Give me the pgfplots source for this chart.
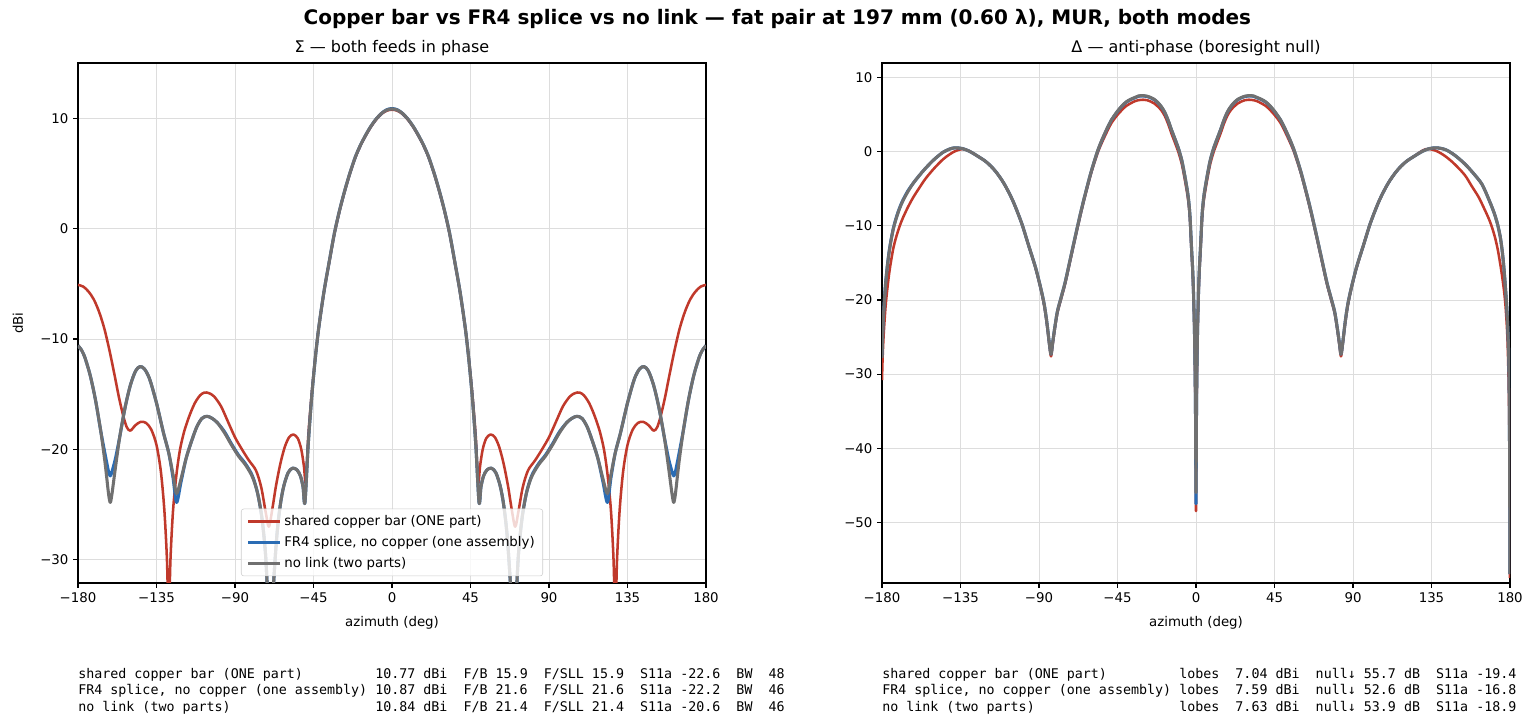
\documentclass[border=0pt]{standalone}
\usepackage{fontspec}
\setmainfont{DejaVu Sans}
\newfontfamily\monofont{DejaVu Sans Mono}
\usepackage{pgfplots}
\usepackage{pgfplotstable}
\pgfplotsset{compat=1.18}
\definecolor{cred}{RGB}{192,57,43}
\definecolor{cblue}{RGB}{42,108,180}
\definecolor{cgray}{RGB}{112,112,112}
\definecolor{cgrid}{RGB}{221,221,221}
\definecolor{cleg}{RGB}{204,204,204}

% ---------- Sigma pattern ----------
\pgfplotstableread{
az val
-180 -5.1
-177 -5.25
-174 -5.7
-171 -6.4
-168 -7.5
-165 -9.0
-162 -11.0
-159 -13.3
-156.5 -15.3
-154 -17.0
-152 -18.0
-150 -18.3
-147 -17.8
-144 -17.5
-141 -17.6
-138 -18.2
-135 -19.6
-132.5 -22.0
-130.5 -25.5
-129 -30.0
-128 -35.5
-127 -30.0
-125.5 -25.5
-123.5 -22.2
-121.5 -20.0
-119 -18.3
-116 -16.9
-113 -15.8
-110 -15.1
-107.5 -14.85
-105 -14.9
-102 -15.2
-98 -16.1
-94 -17.5
-90 -18.9
-86 -20.0
-82 -21.0
-78 -21.9
-75 -23.4
-72.5 -25.6
-70.6 -27.0
-68.5 -25.3
-66.5 -23.3
-64 -21.3
-61.5 -19.8
-59 -18.9
-56.5 -18.65
-54 -19.0
-52 -20.0
-50.5 -21.5
-49.4 -23.0
-48 -18.8
-46 -14.9
-44 -11.7
-42 -9.0
-39 -5.77
-36 -3.07
-33 -0.47
-30 1.63
-27 3.43
-24 5.03
-21 6.43
-18 7.53
-15 8.43
-12 9.23
-9 9.88
-6 10.38
-3 10.68
0 10.77
3 10.68
6 10.38
9 9.88
12 9.23
15 8.43
18 7.53
21 6.43
24 5.03
27 3.43
30 1.63
33 -0.47
36 -3.07
39 -5.77
42 -9.0
44 -11.7
46 -14.9
48 -18.8
49.4 -23.0
50.5 -21.5
52 -20.0
54 -19.0
56.5 -18.65
59 -18.9
61.5 -19.8
64 -21.3
66.5 -23.3
68.5 -25.3
70.6 -27.0
72.5 -25.6
75 -23.4
78 -21.9
82 -21.0
86 -20.0
90 -18.9
94 -17.5
98 -16.1
102 -15.2
105 -14.9
107.5 -14.85
110 -15.1
113 -15.8
116 -16.9
119 -18.3
121.5 -20.0
123.5 -22.2
125.5 -25.5
127 -30.0
128 -35.5
129 -30.0
130.5 -25.5
132.5 -22.0
135 -19.6
138 -18.2
141 -17.6
144 -17.5
147 -17.8
150 -18.3
152 -18.0
154 -17.0
156.5 -15.3
159 -13.3
162 -11.0
165 -9.0
168 -7.5
171 -6.4
174 -5.7
177 -5.25
180 -5.1
}\SigRed

\pgfplotstableread{
az val
-180 -10.6
-178 -11.0
-176 -11.7
-173 -13.3
-170 -15.5
-167 -18.3
-164.5 -20.4
-162.5 -22.0
-161.5 -22.4
-160.5 -22.0
-158.5 -20.8
-156 -18.8
-153 -16.2
-150 -14.2
-147 -12.9
-144.5 -12.5
-142 -12.7
-139 -13.6
-135 -15.8
-131 -18.5
-128 -20.3
-125.5 -22.6
-123.5 -24.8
-121 -23.0
-118 -20.8
-115 -19.3
-112 -18.0
-109 -17.2
-106 -17.0
-103 -17.2
-100 -17.6
-96 -18.4
-92 -19.5
-88 -20.5
-84 -21.3
-80 -22.4
-77 -24.0
-74.5 -26.3
-72.5 -29.5
-71 -34.0
-69.5 -38.0
-68 -32.5
-66 -27.8
-64 -25.0
-62 -23.3
-59.5 -22.1
-57 -21.7
-54.5 -21.85
-52.5 -22.4
-51 -23.4
-49.9 -24.8
-48 -19.5
-46 -15.2
-44 -11.8
-42 -9.0
-39 -5.71
-36 -3.01
-33 -0.41
-30 1.69
-27 3.49
-24 5.09
-21 6.49
-18 7.59
-15 8.49
-12 9.29
-9 9.94
-6 10.44
-3 10.77
0 10.87
3 10.77
6 10.44
9 9.94
12 9.29
15 8.49
18 7.59
21 6.49
24 5.09
27 3.49
30 1.69
33 -0.41
36 -3.01
39 -5.71
42 -9.0
44 -11.8
46 -15.2
48 -19.5
49.9 -24.8
51 -23.4
52.5 -22.4
54.5 -21.85
57 -21.7
59.5 -22.1
62 -23.3
64 -25.0
66 -27.8
68 -32.5
69.5 -38.0
71 -34.0
72.5 -29.5
74.5 -26.3
77 -24.0
80 -22.4
84 -21.3
88 -20.5
92 -19.5
96 -18.4
100 -17.6
103 -17.2
106 -17.0
109 -17.2
112 -18.0
115 -19.3
118 -20.8
121 -23.0
123.5 -24.8
125.5 -22.6
128 -20.3
131 -18.5
135 -15.8
139 -13.6
142 -12.7
144.5 -12.5
147 -12.9
150 -14.2
153 -16.2
156 -18.8
158.5 -20.8
160.5 -22.0
161.5 -22.4
162.5 -22.0
164.5 -20.4
167 -18.3
170 -15.5
173 -13.3
176 -11.7
178 -11.0
180 -10.6
}\SigBlue

\pgfplotstableread{
az val
-180 -10.6
-178 -11.0
-176 -11.7
-173 -13.3
-170 -15.5
-167 -18.3
-164.5 -21.2
-162.5 -24.0
-161.5 -24.8
-160.5 -24.0
-158.5 -21.6
-156 -18.8
-153 -16.2
-150 -14.2
-147 -12.9
-144.5 -12.5
-142 -12.7
-139 -13.6
-135 -15.8
-131 -18.5
-128 -20.3
-125.5 -22.3
-123.5 -24.0
-121 -22.7
-118 -20.8
-115 -19.3
-112 -18.0
-109 -17.2
-106 -17.0
-103 -17.2
-100 -17.6
-96 -18.5
-92 -19.6
-88 -20.6
-84 -21.4
-80 -22.5
-77 -24.0
-74.5 -26.3
-72.5 -29.5
-71 -34.0
-69.5 -38.0
-68 -32.5
-66 -27.8
-64 -25.0
-62 -23.3
-59.5 -22.1
-57 -21.7
-54.5 -21.85
-52.5 -22.4
-51 -23.4
-49.9 -24.8
-48 -19.5
-46 -15.2
-44 -11.8
-42 -9.0
-39 -5.71
-36 -3.01
-33 -0.41
-30 1.69
-27 3.49
-24 5.09
-21 6.49
-18 7.59
-15 8.49
-12 9.29
-9 9.94
-6 10.44
-3 10.74
0 10.84
3 10.74
6 10.44
9 9.94
12 9.29
15 8.49
18 7.59
21 6.49
24 5.09
27 3.49
30 1.69
33 -0.41
36 -3.01
39 -5.71
42 -9.0
44 -11.8
46 -15.2
48 -19.5
49.9 -24.8
51 -23.4
52.5 -22.4
54.5 -21.85
57 -21.7
59.5 -22.1
62 -23.3
64 -25.0
66 -27.8
68 -32.5
69.5 -38.0
71 -34.0
72.5 -29.5
74.5 -26.3
77 -24.0
80 -22.5
84 -21.4
88 -20.6
92 -19.6
96 -18.5
100 -17.6
103 -17.2
106 -17.0
109 -17.2
112 -18.0
115 -19.3
118 -20.8
121 -22.7
123.5 -24.0
125.5 -22.3
128 -20.3
131 -18.5
135 -15.8
139 -13.6
142 -12.7
144.5 -12.5
147 -12.9
150 -14.2
153 -16.2
156 -18.8
158.5 -21.6
160.5 -24.0
161.5 -24.8
162.5 -24.0
164.5 -21.2
167 -18.3
170 -15.5
173 -13.3
176 -11.7
178 -11.0
180 -10.6
}\SigGray

% ---------- Delta pattern ----------
\pgfplotstableread{
az val
-180 -30.8
-179.6 -27.5
-179 -24.5
-178 -21.0
-177 -18.6
-176 -16.6
-175 -15.0
-173.5 -13.0
-172 -11.6
-170 -10.1
-168 -8.9
-165 -7.4
-162 -6.1
-159 -5.0
-155 -3.6
-150 -2.2
-145 -1.0
-141 -0.3
-138 0.1
-134 0.38
-130 0.1
-125 -0.6
-120 -1.4
-115 -2.6
-110 -4.3
-105 -6.6
-100 -9.6
-96 -12.6
-92 -15.7
-89 -18.5
-87 -20.8
-85.5 -23.2
-84 -26.2
-83.1 -27.6
-82.2 -26.1
-81 -24.0
-79.5 -21.8
-77.5 -20.0
-75 -17.8
-72 -14.6
-69 -11.4
-66 -8.3
-63.6 -6.0
-60 -2.8
-56 0.1
-52 2.25
-48.5 3.9
-47 4.4
-45 5.0
-42.5 5.65
-40 6.2
-37.5 6.55
-35 6.85
-33 6.98
-30.3 7.04
-28 6.98
-26 6.8
-24 6.55
-22 6.15
-20 5.65
-18 4.9
-16 3.8
-14.1 2.5
-12 1.2
-10 -0.1
-8 -1.8
-6 -4.3
-4.5 -6.5
-3.5 -9.0
-2.6 -13.3
-1.8 -17.0
-1.1 -22.3
-0.6 -29
-0.25 -37
0 -48.5
0.25 -37
0.6 -29
1.1 -22.3
1.8 -17.0
2.6 -13.3
3.5 -9.0
4.5 -6.5
6 -4.3
8 -1.8
10 -0.1
12 1.2
14.1 2.5
16 3.8
18 4.9
20 5.65
22 6.15
24 6.55
26 6.8
28 6.98
30.3 7.04
33 6.98
35 6.85
37.5 6.55
40 6.2
42.5 5.65
45 5.0
47 4.4
48.5 3.9
52 2.25
56 0.1
60 -2.8
63.6 -6.0
66 -8.3
69 -11.4
72 -14.6
75 -17.8
77.5 -20.0
79.5 -21.8
81 -24.0
82.2 -26.1
83.1 -27.6
84 -26.2
85.5 -23.2
87 -20.8
89 -18.5
92 -15.7
96 -12.6
100 -9.6
105 -6.6
110 -4.3
115 -2.6
120 -1.4
125 -0.6
130 0.2
133.2 0.4
138 0.1
143 -0.6
148 -1.6
154 -3.1
158 -4.6
162 -6.1
165.5 -7.8
168.5 -9.4
171 -11.2
173 -13.2
175 -16.0
176.5 -18.6
177.5 -21.0
178.5 -25.0
179.2 -31
179.7 -40
180 -57.5
}\DelRed

\pgfplotstableread{
az val
-180 -27.5
-179.6 -24.3
-179 -21.4
-178 -17.9
-177 -15.5
-176 -13.6
-175 -12.1
-173.5 -10.3
-172 -9.0
-170 -7.6
-168 -6.5
-165 -5.2
-162 -4.2
-159 -3.3
-155 -2.2
-150 -1.0
-145 -0.05
-141 0.4
-138 0.55
-134 0.45
-130 0.1
-125 -0.6
-120 -1.4
-115 -2.6
-110 -4.3
-105 -6.6
-100 -9.6
-96 -12.6
-92 -15.6
-89 -18.4
-87 -20.6
-85.5 -23.0
-84 -26.0
-83.1 -27.3
-82.2 -25.8
-81 -23.8
-79.5 -21.6
-77.5 -19.8
-75 -17.6
-72 -14.4
-69 -11.2
-66 -8.1
-63.6 -5.8
-60 -2.6
-56 0.35
-52 2.6
-48.5 4.3
-47 4.8
-45 5.45
-42.5 6.15
-40 6.7
-37.5 7.05
-35 7.3
-33 7.5
-30.3 7.55
-28 7.47
-26 7.3
-24 7.05
-22 6.65
-20 6.1
-18 5.35
-16 4.25
-14.1 3.0
-12 1.7
-10 0.4
-8 -1.3
-6 -3.8
-4.5 -6.0
-3.5 -8.5
-2.6 -12.8
-1.8 -16.5
-1.1 -21.8
-0.6 -28
-0.25 -36
0 -47.5
0.25 -36
0.6 -28
1.1 -21.8
1.8 -16.5
2.6 -12.8
3.5 -8.5
4.5 -6.0
6 -3.8
8 -1.3
10 0.4
12 1.7
14.1 3.0
16 4.25
18 5.35
20 6.1
22 6.65
24 7.05
26 7.3
28 7.47
30.3 7.55
33 7.5
35 7.3
37.5 7.05
40 6.7
42.5 6.15
45 5.45
47 4.8
48.5 4.3
52 2.6
56 0.35
60 -2.6
63.6 -5.8
66 -8.1
69 -11.2
72 -14.4
75 -17.6
77.5 -19.8
79.5 -21.6
81 -23.8
82.2 -25.8
83.1 -27.3
84 -26.0
85.5 -23.0
87 -20.6
89 -18.4
92 -15.6
96 -12.6
100 -9.6
105 -6.6
110 -4.3
115 -2.6
120 -1.4
125 -0.6
130 0.1
134 0.45
138 0.55
143 0.3
148 -0.4
154 -1.6
159.4 -3.0
164 -4.4
168 -6.5
171 -8.3
173 -9.9
174.5 -11.6
175.7 -13.7
176.7 -16.2
177.5 -18.7
178.2 -21.2
179 -25.5
179.6 -33
180 -57
}\DelBlue

\pgfplotstableread{
az val
-180 -27.8
-179.6 -24.5
-179 -21.5
-178 -18.0
-177 -15.6
-176 -13.7
-175 -12.2
-173.5 -10.4
-172 -9.1
-170 -7.7
-168 -6.6
-165 -5.3
-162 -4.2
-159 -3.3
-155 -2.2
-150 -1.0
-145 -0.05
-141 0.4
-138 0.55
-134 0.45
-130 0.1
-125 -0.6
-120 -1.4
-115 -2.6
-110 -4.3
-105 -6.6
-100 -9.6
-96 -12.6
-92 -15.6
-89 -18.4
-87 -20.6
-85.5 -23.0
-84 -26.0
-83.1 -27.3
-82.2 -25.8
-81 -23.8
-79.5 -21.6
-77.5 -19.8
-75 -17.6
-72 -14.4
-69 -11.2
-66 -8.1
-63.6 -5.8
-60 -2.6
-56 0.4
-52 2.65
-48.5 4.3
-47 4.85
-45 5.5
-42.5 6.2
-40 6.75
-37.5 7.1
-35 7.35
-33 7.55
-30.3 7.6
-28 7.52
-26 7.35
-24 7.1
-22 6.7
-20 6.15
-18 5.4
-16 4.3
-14.1 3.0
-12 1.7
-10 0.4
-8 -1.3
-6 -3.8
-4.5 -6.0
-3.5 -8.5
-2.6 -12.8
-1.8 -16.5
-1.1 -21.8
-0.6 -28
-0.25 -36
0 -46
0.25 -36
0.6 -28
1.1 -21.8
1.8 -16.5
2.6 -12.8
3.5 -8.5
4.5 -6.0
6 -3.8
8 -1.3
10 0.4
12 1.7
14.1 3.0
16 4.3
18 5.4
20 6.15
22 6.7
24 7.1
26 7.35
28 7.52
30.3 7.6
33 7.55
35 7.35
37.5 7.1
40 6.75
42.5 6.2
45 5.5
47 4.85
48.5 4.3
52 2.65
56 0.4
60 -2.6
63.6 -5.8
66 -8.1
69 -11.2
72 -14.4
75 -17.6
77.5 -19.8
79.5 -21.6
81 -23.8
82.2 -25.8
83.1 -27.3
84 -26.0
85.5 -23.0
87 -20.6
89 -18.4
92 -15.6
96 -12.6
100 -9.6
105 -6.6
110 -4.3
115 -2.6
120 -1.4
125 -0.6
130 0.1
134 0.45
138 0.55
143 0.3
148 -0.4
154 -1.6
159.4 -3.0
164 -4.4
168 -6.5
171 -8.3
173 -9.9
174.5 -11.6
175.7 -13.7
176.7 -16.2
177.5 -18.7
178.2 -21.2
179 -25.5
179.6 -33
180 -57
}\DelGray

\pgfplotsset{
  myaxis/.style={
    anchor=south west, scale only axis, width=471pt, height=390pt,
    xmin=-180, xmax=180,
    xtick={-180,-135,-90,-45,0,45,90,135,180},
    xticklabels={−180,−135,−90,−45,0,45,90,135,180},
    xtick pos=bottom, ytick pos=left,
    tick align=outside, major tick length=3.5pt,
    tick style={black, line width=0.8pt},
    axis line style={line width=0.8pt},
    grid=major, grid style={cgrid, line width=0.7pt},
    ticklabel style={font=\fontsize{10}{12}\selectfont, inner sep=0pt},
    xticklabel shift=3.5pt, yticklabel shift=3.5pt,
  },
  pr/.style={cred, line width=1.9pt, smooth, tension=0.5, line join=round},
  pb/.style={cblue, line width=2.3pt, smooth, tension=0.5, line join=round},
  pg/.style={cgray, line width=2.3pt, smooth, tension=0.5, line join=round},
}

\begin{document}
\begin{tikzpicture}
\path[use as bounding box] (0pt,0pt) rectangle (1152pt,545.25pt);

\begin{axis}[myaxis, at={(58.5pt,108pt)},
  ymin=-32.1, ymax=15,
  ytick={-30,-20,-10,0,10},
  yticklabels={−30,−20,−10,0,10},
  legend style={at={(0.5,0.013)}, anchor=south, draw=cleg, rounded corners=2pt,
    fill=white, fill opacity=0.8, text opacity=1,
    font=\fontsize{10}{12}\selectfont, row sep=2.5pt, inner xsep=4pt, inner ysep=3pt,
    cells={anchor=west}},
  legend image code/.code={\draw[#1] (0pt,0pt) -- (24pt,0pt);},
]
\addplot[pr] table[x=az,y=val] {\SigRed};
\addlegendentry{shared copper bar (ONE part)}
\addplot[pb] table[x=az,y=val] {\SigBlue};
\addlegendentry{FR4 splice, no copper (one assembly)}
\addplot[pg] table[x=az,y=val] {\SigGray};
\addlegendentry{no link (two parts)}
\end{axis}

\begin{axis}[myaxis, at={(661.5pt,108pt)},
  ymin=-58.2, ymax=12,
  ytick={-50,-40,-30,-20,-10,0,10},
  yticklabels={−50,−40,−30,−20,−10,0,10},
]
\addplot[pr] table[x=az,y=val] {\DelRed};
\addplot[pb] table[x=az,y=val] {\DelBlue};
\addplot[pg] table[x=az,y=val] {\DelGray};
\end{axis}

\node[font=\fontsize{15}{18}\selectfont\bfseries] at (583pt,531pt)
  {Copper bar vs FR4 splice vs no link — fat pair at 197 mm (0.60 λ), MUR, both modes};
\node[font=\fontsize{12}{14}\selectfont] at (294pt,509.25pt) {Σ — both feeds in phase};
\node[font=\fontsize{12}{14}\selectfont] at (897pt,509.25pt) {Δ — anti-phase (boresight null)};
\node[font=\fontsize{10}{12}\selectfont, anchor=base] at (294pt,75pt) {azimuth (deg)};
\node[font=\fontsize{10}{12}\selectfont, anchor=base] at (897pt,75pt) {azimuth (deg)};
\node[font=\fontsize{10}{12}\selectfont, rotate=90] at (13.5pt,303pt) {dBi};

\begin{scope}[every node/.style={font=\fontsize{10}{12}\monofont, anchor=base west, inner sep=0pt}]
\node at (58.5pt,36.5pt) {shared copper bar (ONE part)~~~~~~~~~10.77 dBi~~F/B 15.9~~F/SLL 15.9~~S11a -22.6~~BW~~48};
\node at (58.5pt,24.1pt) {FR4 splice, no copper (one assembly)~10.87 dBi~~F/B 21.6~~F/SLL 21.6~~S11a -22.2~~BW~~46};
\node at (58.5pt,11.7pt) {no link (two parts)~~~~~~~~~~~~~~~~~~10.84 dBi~~F/B 21.4~~F/SLL 21.4~~S11a -20.6~~BW~~46};
\node at (661.5pt,36.5pt) {shared copper bar (ONE part)~~~~~~~~~lobes~~7.04 dBi~~null↓ 55.7 dB~~S11a -19.4};
\node at (661.5pt,24.1pt) {FR4 splice, no copper (one assembly)~lobes~~7.59 dBi~~null↓ 52.6 dB~~S11a -16.8};
\node at (661.5pt,11.7pt) {no link (two parts)~~~~~~~~~~~~~~~~~~lobes~~7.63 dBi~~null↓ 53.9 dB~~S11a -18.9};
\end{scope}
\end{tikzpicture}
\end{document}
